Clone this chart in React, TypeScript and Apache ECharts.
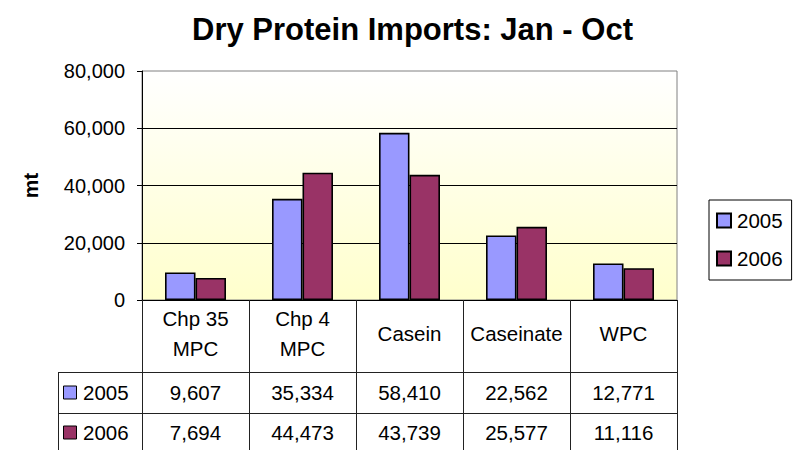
import React, { useEffect, useRef } from "react";
import * as echarts from "echarts";

const title = "Dry Protein Imports: Jan - Oct";
const yAxisName = "mt";
const categories = ["Chp 35\nMPC", "Chp 4\nMPC", "Casein", "Caseinate", "WPC"];
const seriesNames = ["2005", "2006"];
const values2005 = [9607, 35334, 58410, 22562, 12771];
const values2006 = [7694, 44473, 43739, 25577, 11116];
const seriesColors = ["#9999FF", "#993366"];
const yMin = 0;
const yMax = 80000;
const yInterval = 20000;

const FONT = "'Liberation Sans', Arial, Helvetica, sans-serif";
const fmt = (n: number) => n.toLocaleString("en-US");

export default function App() {
  const ref = useRef<HTMLDivElement>(null);

  useEffect(() => {
    document.body.style.margin = "0";
    if (!ref.current) return;
    const chart = echarts.init(ref.current, undefined, { renderer: "svg" });
    const allValues = [values2005, values2006];
    const rowCenters = [392.5, 432.5];
    const lineColor = "#222";

    const option: any = {
      animation: false,
      backgroundColor: "#ffffff",
      textStyle: { fontFamily: FONT },
      title: {
        text: title,
        left: 187,
        top: 9,
        textStyle: { fontFamily: FONT, fontSize: 31, fontWeight: "bold", color: "#000" },
      },
      legend: {
        left: 709,
        top: 200,
        orient: "vertical",
        data: seriesNames,
        icon: "rect",
        itemWidth: 14,
        itemHeight: 14,
        itemGap: 17,
        padding: [10, 9, 11, 7],
        borderColor: "#000",
        borderWidth: 1,
        textStyle: { fontFamily: FONT, fontSize: 20.5, color: "#000", padding: [0, 0, 0, 1] },
      },
      grid: {
        left: 142,
        right: 119,
        top: 71,
        bottom: 150,
        show: true,
        borderColor: "#808080",
        borderWidth: 1,
        backgroundColor: new echarts.graphic.LinearGradient(0, 0, 0, 1, [
          { offset: 0, color: "#FFFFFF" },
          { offset: 1, color: "#FFFFCC" },
        ]),
      },
      xAxis: [
        {
          type: "category",
          data: categories,
          position: "bottom",
          offset: 0,
          axisLine: { show: true, lineStyle: { color: "#000", width: 1 } },
          axisTick: { show: true, length: 150, lineStyle: { color: lineColor, width: 1 } },
          axisLabel: {
            interval: 0,
            margin: 33,
            verticalAlign: "middle",
            fontFamily: FONT,
            fontSize: 20.5,
            lineHeight: 30,
            color: "#000",
          },
        },
        ...allValues.map((vals, k) => ({
          type: "category",
          data: categories,
          position: "bottom",
          offset: 0,
          axisLine: { show: false },
          axisTick: { show: false },
          axisLabel: {
            interval: 0,
            margin: rowCenters[k] - 300,
            verticalAlign: "middle",
            fontFamily: FONT,
            fontSize: 20.5,
            color: "#000",
            formatter: (_v: string, i: number) => fmt(vals[i]),
          },
        })),
      ],
      yAxis: {
        type: "value",
        min: yMin,
        max: yMax,
        interval: yInterval,
        name: yAxisName,
        nameLocation: "middle",
        nameRotate: 90,
        nameGap: 101,
        nameTextStyle: { fontFamily: FONT, fontSize: 21, fontWeight: "bold", color: "#000" },
        axisLine: { show: true, lineStyle: { color: "#000", width: 1 } },
        axisTick: { show: true, length: 5, lineStyle: { color: "#000" } },
        axisLabel: {
          margin: 17,
          fontFamily: FONT,
          fontSize: 20,
          color: "#000",
          formatter: (v: number) => fmt(v),
        },
        splitLine: {
          show: true,
          showMinLine: false,
          showMaxLine: false,
          lineStyle: { color: "#000", width: 1 },
        },
      },
      series: allValues.map((vals, k) => ({
        name: seriesNames[k],
        type: "bar",
        xAxisIndex: 0,
        data: vals,
        barGap: "0%",
        barCategoryGap: "43%",
        itemStyle: { color: seriesColors[k], borderColor: "#000", borderWidth: 1.6 },
      })),
      graphic: [
        { type: "line", shape: { x1: 58, y1: 372.5, x2: 677, y2: 372.5 }, style: { stroke: lineColor, lineWidth: 1 } },
        { type: "line", shape: { x1: 58, y1: 413.5, x2: 677, y2: 413.5 }, style: { stroke: lineColor, lineWidth: 1 } },
        { type: "line", shape: { x1: 58.5, y1: 372, x2: 58.5, y2: 450 }, style: { stroke: lineColor, lineWidth: 1 } },
        ...seriesNames.flatMap((name, k) => [
          {
            type: "rect",
            shape: { x: 63.5, y: rowCenters[k] - 6.5, width: 13, height: 13 },
            style: { fill: seriesColors[k], stroke: "#000", lineWidth: 1 },
          },
          {
            type: "text",
            x: 83,
            y: rowCenters[k],
            style: {
              text: name,
              fontFamily: FONT,
              fontSize: 20.5,
              fill: "#000",
              verticalAlign: "middle",
              align: "left",
            },
          },
        ]),
      ],
    };
    chart.setOption(option);
    return () => chart.dispose();
  }, []);

  return (
    <div
      ref={ref}
      style={{ position: "absolute", left: 0, top: 0, width: 796, height: 450 }}
    />
  );
}
